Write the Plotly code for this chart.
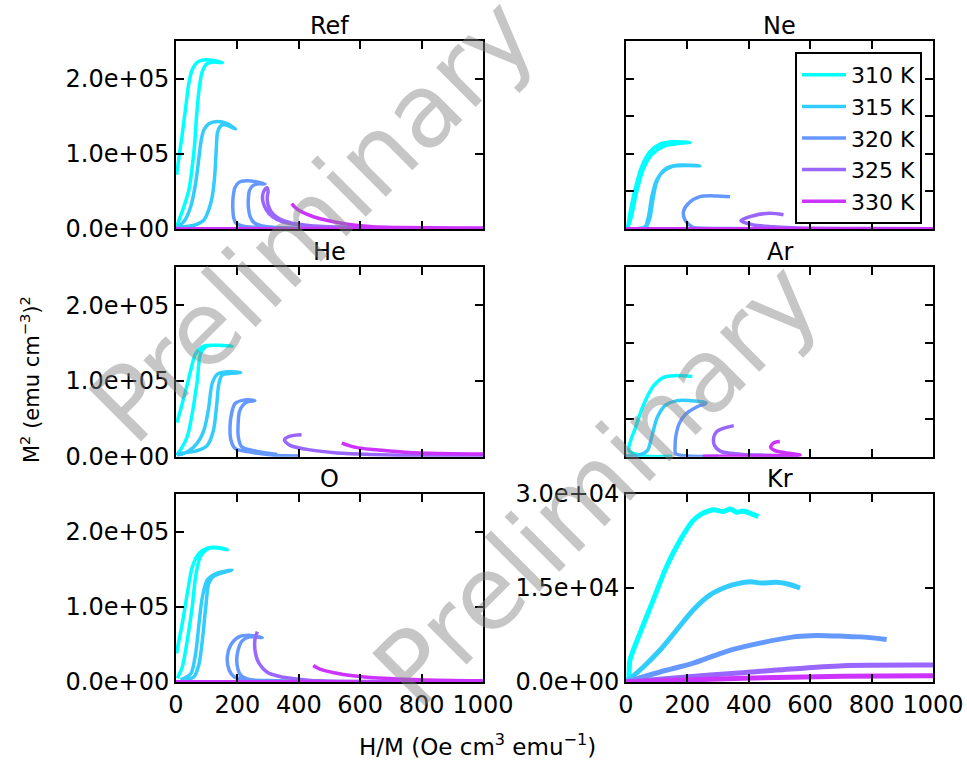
import plotly.graph_objects as go

# ---------------- data ----------------
temps = ["310 K", "315 K", "320 K", "325 K", "330 K"]
colors = ["#00ffff", "#33ccff", "#6699ff", "#9966ff", "#cc33ff"]
panel_names = ["Ref", "Ne", "He", "Ar", "O", "Kr"]

x_ticks = [0, 200, 400, 600, 800, 1000]
x_ticktext = ["0", "200", "400", "600", "800", "1000"]
y_ticks_main = [0, 1e5, 2e5]
y_ticktext_main = ["0.0e+00", "1.0e+05", "2.0e+05"]
y_ticks_right = [0, 5e4, 1e5, 1.5e5, 2e5, 2.5e5]
y_ticks_kr = [0, 1.5e4, 3e4]
y_ticktext_kr = ["0.0e+00", "1.5e+04", "3.0e+04"]

# H/M values (Oe cm3/emu) and M^2 values (units of 1e5 (emu/cm3)^2)
ref_x = [
    [2, 10, 21, 32, 42, 53, 70, 97, 124, 151, 124, 102, 86, 75, 67, 61, 53, 42, 26, 10, 1],
    [4, 26, 48, 64, 75, 82.5, 91, 107, 135, 167, 194, 156, 143, 135, 131, 126, 118, 107, 91, 59, 26, 0],
    [380, 320, 260, 215, 195, 188, 185, 186, 192, 205, 230, 260, 290, 270, 252, 240, 236, 236, 242, 255, 280, 330, 400],
    [1100, 900, 700, 550, 450, 390, 345, 315, 295, 284, 282, 287, 296, 300, 297, 300, 312, 335, 375, 440, 550],
    [0, 300, 600, 900, 1100, 1100, 900, 730, 640, 535, 450, 400, 385, 377],
]
ref_y = [
    [0.72, 0.96, 1.28, 1.63, 1.94, 2.12, 2.22, 2.25, 2.24, 2.21, 2.22, 2.20, 2.10, 1.85, 1.50, 1.14, 0.83, 0.52, 0.30, 0.12, 0.02],
    [0.03, 0.10, 0.30, 0.61, 0.96, 1.19, 1.32, 1.40, 1.43, 1.40, 1.33, 1.39, 1.36, 1.28, 1.05, 0.70, 0.43, 0.26, 0.12, 0.05, 0.03, 0.02],
    [0.005, 0.01, 0.02, 0.04, 0.08, 0.15, 0.28, 0.42, 0.55, 0.62, 0.64, 0.63, 0.60, 0.60, 0.58, 0.52, 0.42, 0.28, 0.16, 0.08, 0.04, 0.02, 0.01],
    [0.003, 0.006, 0.012, 0.02, 0.035, 0.06, 0.10, 0.16, 0.25, 0.35, 0.44, 0.51, 0.55, 0.50, 0.42, 0.32, 0.22, 0.14, 0.08, 0.045, 0.025],
    [0.002, 0.002, 0.002, 0.003, 0.003, 0.008, 0.012, 0.02, 0.03, 0.08, 0.16, 0.25, 0.30, 0.34],
]

ne_x = [
    [0, 5, 13, 29, 51, 78, 111, 154, 209, 176, 122, 84, 56, 34, 18, 7],
    [0, 40, 62, 73, 84, 100, 133, 176, 241, 200, 150, 115, 98, 88, 78, 66],
    [420, 330, 260, 219, 208, 192, 187, 203, 241, 295, 339],
    [1100, 800, 600, 523, 480, 415, 374, 415, 469, 513],
    [0, 500, 1100],
]
ne_y = [
    [0.003, 0.03, 0.21, 0.52, 0.83, 1.03, 1.13, 1.16, 1.15, 1.14, 1.10, 0.99, 0.79, 0.48, 0.17, 0.03],
    [0.003, 0.005, 0.03, 0.16, 0.43, 0.65, 0.81, 0.85, 0.84, 0.845, 0.83, 0.74, 0.60, 0.40, 0.15, 0.02],
    [0.004, 0.006, 0.01, 0.02, 0.05, 0.12, 0.23, 0.34, 0.43, 0.44, 0.43],
    [0.003, 0.006, 0.01, 0.02, 0.031, 0.053, 0.11, 0.177, 0.21, 0.19],
    [0.004, 0.004, 0.005],
]

he_x = [
    [3, 15, 26, 37, 48, 64, 91, 135, 183, 140, 100, 80, 69.5, 62, 53, 37, 15, 2],
    [3, 30, 58.6, 80, 91, 100, 107, 118, 135, 167, 211, 151, 140, 132, 122, 102, 69.5, 26, 3],
    [400, 320, 241, 192, 179, 176, 181, 192, 225, 257, 230, 218, 207, 203, 203, 214, 263, 330],
    [1100, 800, 632, 524, 436, 371, 353, 371, 409],
    [1100, 995, 795, 686, 589, 540],
]
he_y = [
    [0.45, 0.62, 0.79, 0.96, 1.14, 1.36, 1.46, 1.47, 1.46, 1.47, 1.46, 1.36, 1.01, 0.80, 0.57, 0.27, 0.09, 0.02],
    [0.02, 0.05, 0.13, 0.25, 0.35, 0.50, 0.66, 0.97, 1.09, 1.12, 1.11, 1.08, 0.97, 0.66, 0.35, 0.15, 0.08, 0.05, 0.03],
    [0.01, 0.02, 0.06, 0.11, 0.22, 0.40, 0.57, 0.70, 0.75, 0.74, 0.72, 0.68, 0.60, 0.48, 0.26, 0.13, 0.07, 0.03],
    [0.005, 0.015, 0.03, 0.05, 0.09, 0.15, 0.22, 0.27, 0.29],
    [0.03, 0.035, 0.05, 0.08, 0.12, 0.18],
]

ar_x = [
    [150, 60, 10, 31.5, 58.6, 91, 124, 156, 216],
    [0, 40, 69.5, 86, 102, 129, 167, 211, 254, 265],
    [300, 200, 162, 160, 162, 172.6, 194, 227, 260],
    [560, 450, 380, 341, 308, 288, 286, 295, 314, 351],
    [250, 450, 567, 523, 485, 471, 480, 501],
]
ar_y = [
    [0.005, 0.008, 0.08, 0.39, 0.70, 0.94, 1.05, 1.07, 1.06],
    [0.01, 0.02, 0.08, 0.30, 0.52, 0.68, 0.74, 0.74, 0.72, 0.70],
    [0.005, 0.01, 0.04, 0.15, 0.26, 0.43, 0.56, 0.65, 0.70],
    [0.01, 0.02, 0.03, 0.045, 0.07, 0.15, 0.26, 0.33, 0.37, 0.41],
    [0.005, 0.01, 0.022, 0.049, 0.08, 0.124, 0.18, 0.20],
]

o_x = [
    [2, 4.3, 20.6, 37, 53, 75, 102, 135, 167, 110, 80, 64, 53, 37, 20.6, 4.3],
    [15, 48, 64, 75, 86, 102, 129, 156, 183, 124, 107, 97, 86, 75, 58.6, 30],
    [400, 300, 232, 189, 173, 167, 178, 205, 243, 281, 240, 216, 200, 200, 211, 243, 300],
    [1100, 700, 469, 384, 341, 297, 270, 259, 257, 265],
    [0, 500, 1100, 1100, 995, 795, 632, 545, 469, 447],
]
o_y = [
    [0.38, 0.44, 0.78, 1.18, 1.53, 1.71, 1.78, 1.79, 1.76, 1.78, 1.67, 1.40, 1.0, 0.56, 0.20, 0.05],
    [0.03, 0.11, 0.38, 0.78, 1.13, 1.36, 1.44, 1.47, 1.49, 1.41, 1.31, 1.0, 0.56, 0.24, 0.07, 0.03],
    [0.01, 0.02, 0.03, 0.07, 0.16, 0.33, 0.49, 0.60, 0.62, 0.59, 0.60, 0.55, 0.38, 0.20, 0.09, 0.03, 0.02],
    [0.002, 0.006, 0.015, 0.045, 0.07, 0.13, 0.25, 0.38, 0.56, 0.67],
    [0.002, 0.002, 0.002, 0.012, 0.015, 0.03, 0.06, 0.10, 0.17, 0.22],
]

# Kr: M^2 in units of 1e4
kr_x = [
    [0, 7.6, 13, 45.6, 89, 132, 176, 219, 245, 263, 285, 317, 340, 360, 382, 405, 431],
    [0, 56.5, 111, 165, 219, 274, 328, 365, 404, 440, 491, 530, 567],
    [0, 111, 219, 328, 436, 545, 600, 654, 710, 763, 849],
    [0, 274, 491, 708, 990, 1100],
    [0, 382, 708, 990, 1100],
]
kr_y = [
    [0, 0.03, 0.35, 0.78, 1.31, 1.84, 2.26, 2.58, 2.68, 2.72, 2.75, 2.72, 2.76, 2.71, 2.73, 2.69, 2.64],
    [0, 0.24, 0.51, 0.83, 1.15, 1.39, 1.52, 1.57, 1.60, 1.58, 1.59, 1.56, 1.50],
    [0, 0.16, 0.30, 0.49, 0.62, 0.72, 0.74, 0.74, 0.73, 0.72, 0.68],
    [0, 0.11, 0.19, 0.26, 0.27, 0.27],
    [0, 0.06, 0.09, 0.10, 0.10],
]

panel_x = [ref_x, ne_x, he_x, ar_x, o_x, kr_x]
panel_y = [ref_y, ne_y, he_y, ar_y, o_y, kr_y]
panel_scale = [1e5, 1e5, 1e5, 1e5, 1e5, 1e4]

# ---------------- layout geometry ----------------
W, H = 967, 765


def px2x(px):
    return px / W


def py2y(py):
    return 1 - py / H


col_dom = [[px2x(176), px2x(483)], [px2x(626), px2x(933)]]
row_px = [(41, 229), (267.3, 456.7), (494, 682)]
row_dom = [[py2y(b), py2y(t)] for (t, b) in row_px]

FONT = "DejaVu Sans"
fig = go.Figure()

for p in range(6):
    r, c = divmod(p, 2)
    ax = "" if p == 0 else str(p + 1)
    for k in range(5):
        fig.add_trace(go.Scatter(
            x=panel_x[p][k],
            y=[v * panel_scale[p] for v in panel_y[p][k]],
            mode="lines",
            line=dict(color=colors[k], width=5 if p == 5 else 3.5, shape="spline", smoothing=0.8),
            name=temps[k],
            showlegend=(p == 0),
            xaxis="x" + ax,
            yaxis="y" + ax,
        ))

    common = dict(
        showline=True, linecolor="black", linewidth=2, mirror="allticks",
        ticks="inside", ticklen=8, tickwidth=1.5, tickcolor="black",
        showgrid=False, zeroline=False, automargin=False,
        tickfont=dict(family=FONT, size=24, color="black"),
    )
    xa = dict(common, domain=col_dom[c], range=[0, 1000],
              anchor="y" + ax, tickvals=x_ticks, ticktext=x_ticktext,
              showticklabels=(r == 2))
    if p == 5:
        ya = dict(common, domain=row_dom[r], range=[0, 3e4], anchor="x" + ax,
                  tickvals=y_ticks_kr, ticktext=y_ticktext_kr, showticklabels=True)
    elif c == 0:
        ya = dict(common, domain=row_dom[r], range=[0, 2.5e5], anchor="x" + ax,
                  tickvals=y_ticks_main, ticktext=y_ticktext_main, showticklabels=True)
    else:
        ya = dict(common, domain=row_dom[r], range=[0, 2.5e5], anchor="x" + ax,
                  tickvals=y_ticks_right, showticklabels=False)
    fig.layout["xaxis" + ax] = xa
    fig.layout["yaxis" + ax] = ya

    # panel title
    fig.add_annotation(
        text=panel_names[p], xref="paper", yref="paper",
        x=(col_dom[c][0] + col_dom[c][1]) / 2, y=row_dom[r][1],
        xanchor="center", yanchor="bottom", yshift=-1, showarrow=False,
        font=dict(family=FONT, size=24, color="black"),
    )

# axis titles
fig.add_annotation(
    text="H/M (Oe cm<sup>3</sup> emu<sup>\u22121</sup>)", xref="paper", yref="paper",
    x=px2x(477), y=py2y(745), xanchor="center", yanchor="middle", showarrow=False,
    font=dict(family=FONT, size=23, color="black"),
)
fig.add_annotation(
    text="M<sup>2</sup> (emu cm<sup>\u22123</sup>)<sup>2</sup>", xref="paper", yref="paper",
    x=px2x(30), y=py2y(380), xanchor="center", yanchor="middle", showarrow=False,
    textangle=-90, font=dict(family=FONT, size=21, color="black"),
)

# watermarks
for (cx, cy) in [(313, 220), (596, 484)]:
    fig.add_annotation(
        text="Preliminary", xref="paper", yref="paper",
        x=px2x(cx), y=py2y(cy), xanchor="center", yanchor="middle", showarrow=False,
        textangle=-45, font=dict(family=FONT, size=102, color="rgba(128,128,128,0.45)"),
    )

fig.update_layout(
    width=W, height=H,
    margin=dict(l=0, r=0, t=0, b=0),
    paper_bgcolor="white", plot_bgcolor="white",
    legend=dict(
        x=px2x(922), y=py2y(52), xanchor="right", yanchor="top",
        bgcolor="white", bordercolor="black", borderwidth=2,
        tracegroupgap=0, itemwidth=44,
        font=dict(family=FONT, size=22, color="black"),
    ),
    showlegend=True,
)

# remove the default page margin so the figure fills the 967x765 window exactly
fig.write_html(
    "out.html",
    config={"displayModeBar": False},
    post_script="document.body.style.margin='0px';document.body.style.overflow='hidden';",
)
